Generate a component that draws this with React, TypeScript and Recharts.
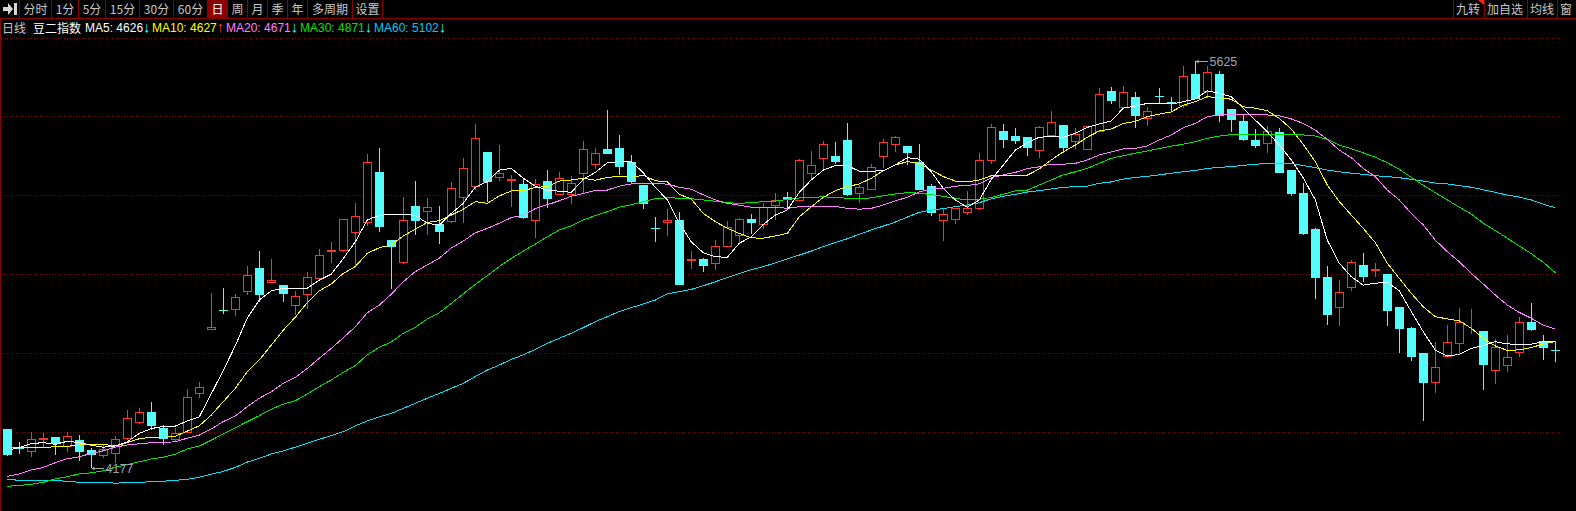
import { Bar, CartesianGrid, ComposedChart, Line, ReferenceDot, XAxis, YAxis } from "recharts";

const open = [
  4316,4251,4238,4280,4287,4254,4276,4241,4223,4231,
  4285,4342,4376,4319,4281,4306,4442,4671,4739,4743,
  4807,4888,4838,4828,4758,4797,4853,4950,4953,5017,
  5053,5229,4988,4910,5108,5090,5044,5056,5141,5181,
  5300,5213,5202,5187,5060,5197,5152,5152,5227,5259,
  5310,5315,5265,5183,5031,5051,5059,4918,4920,4907,
  4967,5004,5062,5045,5113,5140,5129,5227,5280,5286,
  5343,5156,5170,5287,5330,5322,5266,5179,5060,5063,
  5088,5102,5273,5375,5357,5353,5309,5361,5396,5339,
  5312,5374,5516,5461,5496,5420,5500,5478,5466,5578,
  5518,5578,5453,5411,5343,5333,5371,5236,5155,5027,
  4856,4750,4821,4899,4881,4867,4749,4675,4586,4484,
  4575,4622,4673,4664,4526,4544,4590,4696,4628,4598,
];
const close = [
  4223,4244,4279,4282,4261,4290,4234,4223,4243,4279,
  4354,4375,4327,4281,4300,4428,4464,4678,4736,4784,
  4862,4792,4845,4796,4787,4855,4933,4952,5061,5072,
  5264,5034,4963,5057,5055,5104,5016,5171,5242,5349,
  5194,5225,5204,5066,5187,5133,5207,5189,5310,5296,
  5293,5247,5194,5115,5029,5059,4828,4920,4895,4965,
  5033,5061,5048,5104,5129,5129,5271,5253,5328,5265,
  5148,5175,5246,5335,5353,5297,5165,5083,5079,5100,
  5100,5271,5388,5343,5339,5315,5388,5406,5315,5364,
  5392,5505,5482,5513,5428,5445,5498,5476,5569,5488,
  5584,5428,5414,5343,5322,5374,5226,5151,5009,4852,
  4721,4802,4908,4856,4883,4735,4671,4572,4479,4535,
  4624,4696,4675,4543,4606,4571,4695,4668,4604,4595,
];
const high = [
  4316,4269,4305,4301,4287,4305,4294,4247,4262,4290,
  4383,4390,4412,4329,4318,4458,4483,4799,4817,4796,
  4895,4948,4920,4828,4806,4873,4955,4980,5061,5119,
  5293,5315,4988,5140,5197,5137,5108,5194,5279,5400,
  5300,5325,5219,5208,5203,5236,5229,5215,5339,5315,
  5450,5361,5290,5183,5069,5098,5087,4948,4924,4988,
  5055,5066,5080,5119,5155,5158,5275,5304,5339,5336,
  5403,5183,5258,5347,5357,5322,5329,5187,5098,5100,
  5162,5297,5400,5400,5386,5353,5393,5446,5396,5386,
  5392,5528,5531,5535,5514,5460,5528,5496,5606,5625,
  5606,5588,5453,5432,5382,5393,5386,5236,5190,5030,
  4895,4845,4916,4941,4906,4867,4749,4678,4586,4625,
  4685,4746,4742,4664,4636,4650,4714,4764,4650,4628,
];
const low = [
  4220,4227,4216,4251,4223,4234,4202,4177,4212,4194,
  4275,4334,4313,4259,4268,4302,4427,4668,4726,4717,
  4792,4768,4835,4767,4721,4742,4853,4906,4945,4893,
  5038,5016,4813,4903,5005,5005,4973,5048,5048,5166,
  5123,5197,5105,5062,4995,5101,5148,5115,5155,5240,
  5293,5219,5190,5098,4980,5002,4828,4884,4874,4881,
  4967,4977,5009,5027,5059,5101,5126,5204,5240,5258,
  5144,5119,5170,5243,5300,5254,5165,5073,4984,5044,
  5076,5094,5258,5315,5329,5286,5279,5361,5296,5312,
  5312,5370,5471,5461,5386,5393,5473,5441,5456,5488,
  5491,5407,5371,5339,5315,5298,5226,5144,5005,4778,
  4685,4682,4806,4838,4856,4682,4586,4557,4344,4444,
  4575,4586,4653,4454,4476,4518,4572,4664,4561,4554,
];

const ma5 = [
  4240,4250,4264,4267,4261,4272,4267,4258,4251,4255,
  4270,4300,4317,4325,4326,4344,4359,4441,4524,4612,
  4710,4774,4807,4816,4816,4816,4845,4866,4922,4981,
  5059,5075,5079,5079,5075,5047,5040,5082,5118,5175,
  5195,5236,5242,5207,5179,5164,5161,5157,5203,5228,
  5262,5266,5266,5227,5175,5130,5047,4981,4942,4928,
  4926,4976,4999,5043,5076,5094,5157,5201,5236,5252,
  5252,5232,5232,5234,5254,5280,5275,5230,5171,5130,
  5104,5130,5203,5254,5307,5333,5353,5355,5353,5367,
  5388,5400,5411,5456,5464,5473,5473,5471,5479,5489,
  5518,5509,5497,5456,5414,5372,5325,5272,5208,5130,
  4987,4905,4857,4827,4834,4837,4807,4733,4661,4596,
  4575,4581,4602,4612,4626,4618,4617,4617,4626,4626,
];
const ma10 = [
  4251,4251,4251,4251,4252,4254,4259,4261,4261,4255,
  4267,4281,4286,4286,4290,4308,4327,4365,4413,4460,
  4519,4561,4614,4667,4713,4765,4807,4831,4869,4893,
  4940,4960,4970,5002,5026,5050,5056,5076,5097,5124,
  5118,5144,5162,5162,5175,5177,5197,5201,5207,5200,
  5210,5214,5210,5218,5198,5194,5150,5133,5082,5053,
  5029,5011,4995,4994,5002,5011,5070,5106,5139,5163,
  5177,5187,5207,5234,5254,5266,5260,5236,5213,5197,
  5194,5201,5216,5218,5218,5218,5240,5272,5301,5325,
  5353,5375,5382,5402,5409,5426,5435,5443,5467,5479,
  5497,5493,5488,5461,5456,5447,5420,5382,5327,5266,
  5183,5124,5076,5029,4978,4905,4851,4798,4750,4715,
  4707,4700,4674,4638,4611,4595,4597,4605,4618,4627,
];
const ma20 = [
  4147,4156,4170,4179,4196,4210,4217,4229,4238,4251,
  4259,4263,4267,4268,4270,4283,4294,4316,4342,4362,
  4395,4425,4448,4478,4499,4531,4567,4602,4640,4679,
  4729,4756,4795,4839,4875,4899,4923,4959,4984,5013,
  5029,5047,5067,5076,5099,5113,5127,5143,5153,5164,
  5165,5179,5187,5189,5189,5186,5175,5168,5148,5130,
  5118,5111,5104,5104,5104,5100,5106,5107,5107,5107,
  5100,5097,5100,5112,5127,5139,5159,5168,5171,5179,
  5181,5187,5209,5219,5228,5241,5248,5257,5257,5260,
  5272,5290,5301,5311,5313,5322,5343,5361,5387,5402,
  5426,5432,5432,5434,5432,5432,5429,5418,5402,5378,
  5345,5307,5280,5242,5213,5165,5130,5082,5041,4987,
  4946,4910,4869,4831,4792,4756,4730,4709,4685,4671,
];
const ma30 = [
  4112,4115,4119,4126,4138,4146,4156,4160,4167,4180,
  4189,4199,4209,4215,4226,4245,4255,4276,4298,4320,
  4342,4363,4386,4404,4416,4440,4466,4490,4517,4541,
  4579,4606,4625,4656,4677,4707,4729,4762,4796,4830,
  4861,4893,4922,4948,4973,4999,5023,5038,5059,5074,
  5088,5104,5113,5124,5134,5138,5136,5134,5130,5125,
  5120,5118,5120,5124,5126,5132,5137,5139,5141,5139,
  5136,5136,5137,5145,5151,5156,5154,5149,5143,5134,
  5132,5132,5139,5150,5162,5165,5183,5201,5219,5230,
  5242,5260,5278,5287,5296,5304,5313,5321,5328,5337,
  5349,5357,5362,5362,5362,5364,5364,5363,5361,5357,
  5345,5325,5312,5297,5282,5262,5239,5210,5182,5156,
  5130,5104,5080,5047,5021,4994,4966,4939,4908,4871,
];
const ma60 = [
  4137,4133,4133,4133,4132,4130,4126,4126,4126,4123,
  4125,4126,4128,4130,4133,4137,4144,4155,4165,4179,
  4198,4211,4227,4238,4251,4265,4279,4292,4306,4327,
  4344,4359,4371,4389,4407,4425,4442,4460,4478,4502,
  4525,4543,4563,4579,4599,4620,4638,4656,4676,4697,
  4715,4733,4747,4760,4774,4796,4804,4812,4825,4839,
  4854,4868,4882,4893,4906,4920,4934,4948,4964,4978,
  4992,5008,5023,5037,5051,5069,5086,5094,5099,5106,
  5112,5120,5134,5143,5150,5158,5163,5169,5175,5177,
  5179,5189,5194,5204,5210,5214,5219,5225,5230,5235,
  5242,5246,5248,5253,5257,5259,5259,5259,5252,5245,
  5236,5230,5225,5221,5216,5213,5209,5203,5197,5190,
  5187,5181,5175,5166,5157,5147,5140,5130,5115,5102,
];

const gridValues = [5704, 5425, 5144, 4864, 4583, 4302];
const leftButtons = ["分时", "1分", "5分", "15分", "30分", "60分", "日", "周", "月", "季", "年", "多周期", "设置"];
const rightButtons = ["九转", "加自选", "均线", "窗"];
const legend = [
  { name: "MA5", value: 4626, color: "#ffffff", up: false },
  { name: "MA10", value: 4627, color: "#ffff00", up: true },
  { name: "MA20", value: 4671, color: "#ff80ff", up: false },
  { name: "MA30", value: 4871, color: "#00e600", up: false },
  { name: "MA60", value: 5102, color: "#02c8f4", up: false },
];

const RED = "#ff3232";
const CYAN = "#54fcfc";
const GRID = "#8c0000";
const CJK = '"Noto Sans CJK SC", "Liberation Sans", sans-serif';

const rows = open.map((o, i) => ({
  idx: i,
  open: o,
  close: close[i],
  high: high[i],
  low: low[i],
  range: [low[i], high[i]],
  ma5: ma5[i],
  ma10: ma10[i],
  ma20: ma20[i],
  ma30: ma30[i],
  ma60: ma60[i],
}));

// the bar spans low..high, wick and body are worked out from that span
const Candle = (props: any) => {
  const { x, y, width, height, payload } = props;
  const k = height / (payload.high - payload.low);
  const up = payload.close >= payload.open;
  const color = up ? RED : CYAN;
  const cx = Math.floor(x + width / 2) + 0.5;
  const top = Math.round(y + (payload.high - Math.max(payload.open, payload.close)) * k);
  const bottom = Math.round(y + (payload.high - Math.min(payload.open, payload.close)) * k);
  const left = cx - 4;
  return (
    <g shapeRendering="crispEdges">
      <line x1={cx} x2={cx} y1={y} y2={y + height} stroke={color} />
      {up ? (
        <rect x={left} y={top + 0.5} width={8} height={Math.max(bottom - top, 0)} fill="#000" stroke={color} />
      ) : (
        <rect x={left - 0.5} y={top} width={9} height={Math.max(bottom - top, 1)} fill={color} />
      )}
    </g>
  );
};

const PriceTag = (props: any) => {
  const { cx, cy, text } = props;
  const px = Math.floor(cx) + 0.5;
  const py = Math.round(cy) + 0.5;
  return (
    <g>
      <path d={`M${px} ${py}h12`} stroke="#a8a8a8" shapeRendering="crispEdges" />
      <path d={`M${px} ${py}l3 -2v4z`} fill="#a8a8a8" />
      <text x={px + 14} y={py + 4} fill="#9aa6b4" fontSize={12.5} fontFamily='"Liberation Sans", sans-serif'>
        {text}
      </text>
    </g>
  );
};

const leftEdges = [19, 51, 78, 105, 139, 173, 207, 227, 247, 267, 287, 307, 352, 383];
const rightEdges = [1453, 1484, 1527, 1557, 1576];

const Toolbar = () => (
  <div style={{ position: "absolute", left: 0, top: 0, width: 1576, height: 18, borderBottom: `1px solid ${GRID}`, fontFamily: CJK, fontSize: 12, color: "#c8c8c8" }}>
    <svg width={19} height={18} style={{ position: "absolute", left: 0, top: 0 }}>
      <path d="M3 7h5V3l5 6-5 6v-4H3z M14 3h3v12h-3z" fill="#d8d8d8" />
    </svg>
    {leftButtons.map((label, i) => (
      <div
        key={label}
        style={{
          position: "absolute",
          left: leftEdges[i],
          top: 0,
          width: leftEdges[i + 1] - leftEdges[i],
          height: 18,
          lineHeight: "17px",
          textAlign: "center",
          boxSizing: "border-box",
          borderLeft: `1px solid ${GRID}`,
          borderRight: i === leftButtons.length - 1 ? `1px solid ${GRID}` : undefined,
          background: label === "日" ? "#8c0000" : undefined,
          color: label === "日" ? "#ffffff" : undefined,
        }}
      >
        {label}
      </div>
    ))}
    {rightButtons.map((label, i) => (
      <div
        key={label}
        style={{
          position: "absolute",
          left: rightEdges[i],
          top: 0,
          width: rightEdges[i + 1] - rightEdges[i],
          height: 18,
          lineHeight: "17px",
          paddingLeft: 2,
          boxSizing: "border-box",
          borderLeft: `1px solid ${GRID}`,
        }}
      >
        {label}
      </div>
    ))}
    <svg width={7} height={6} style={{ position: "absolute", left: 1478, top: 0 }}>
      <path d="M0 0h6v5z" fill="#ff2020" />
    </svg>
  </div>
);

const legendLeft = [85, 152, 226, 300, 374];

const Legend = () => (
  <div style={{ position: "absolute", left: 0, top: 19, width: 1576, height: 18, lineHeight: "18px", fontSize: 12, whiteSpace: "nowrap" }}>
    <span style={{ position: "absolute", left: 2, color: "#c8c8c8", fontFamily: CJK }}>日线</span>
    <span style={{ position: "absolute", left: 33, color: "#ffffff", fontFamily: CJK }}>豆二指数</span>
    {legend.map((m, i) => (
      <span key={m.name} style={{ position: "absolute", left: legendLeft[i], color: m.color, fontFamily: '"Liberation Sans", sans-serif' }}>
        {m.name}: {m.value}
        <span style={{ color: m.up ? RED : CYAN, fontSize: 15, fontWeight: 700, lineHeight: "14px" }}>{m.up ? "↑" : "↓"}</span>
      </span>
    ))}
  </div>
);

export default function App() {
  return (
    <div style={{ position: "absolute", left: 0, top: 0, width: 1576, height: 511, background: "#000", overflow: "hidden" }}>
      <style>{"body{margin:0;background:#000}"}</style>
      <div style={{ position: "absolute", left: 0, top: 18, width: 1, height: 493, background: GRID }} />
      <ComposedChart
        width={1576}
        height={511}
        data={rows}
        margin={{ top: 0, right: 14.7, bottom: 0, left: 1.3 }}
        style={{ position: "absolute", left: 0, top: 0 }}
      >
        <CartesianGrid vertical={false} horizontalValues={gridValues} stroke={GRID} strokeDasharray="1 2" shapeRendering="crispEdges" />
        <XAxis dataKey="idx" type="category" hide />
        <YAxis hide domain={[4024.1, 5840.7]} allowDataOverflow />
        <Bar dataKey="range" barSize={9} shape={Candle} isAnimationActive={false} />
        <Line dataKey="ma60" stroke="#02e2f4" strokeWidth={1} dot={false} shapeRendering="crispEdges" isAnimationActive={false} />
        <Line dataKey="ma30" stroke="#00e600" strokeWidth={1} dot={false} shapeRendering="crispEdges" isAnimationActive={false} />
        <Line dataKey="ma20" stroke="#ff80ff" strokeWidth={1} dot={false} shapeRendering="crispEdges" isAnimationActive={false} />
        <Line dataKey="ma10" stroke="#ffff00" strokeWidth={1} dot={false} shapeRendering="crispEdges" isAnimationActive={false} />
        <Line dataKey="ma5" stroke="#ffffff" strokeWidth={1} dot={false} shapeRendering="crispEdges" isAnimationActive={false} />
        <ReferenceDot x={99} y={5625} r={0} shape={(p: any) => <PriceTag {...p} text="5625" />} />
        <ReferenceDot x={7} y={4177} r={0} shape={(p: any) => <PriceTag {...p} text="4177" />} />
      </ComposedChart>
      <Toolbar />
      <Legend />
    </div>
  );
}
